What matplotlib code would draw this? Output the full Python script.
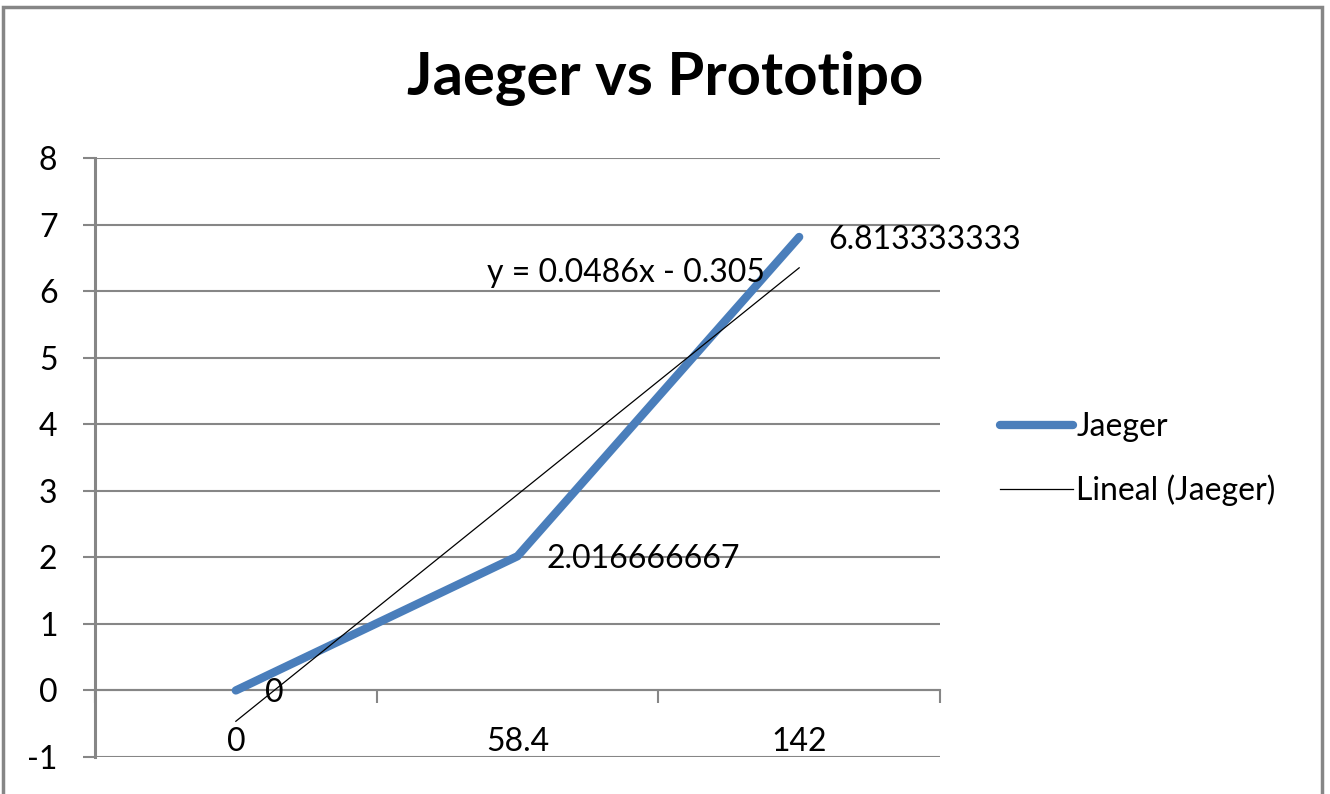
import numpy as np
import matplotlib
matplotlib.use("Agg")
import matplotlib.pyplot as plt
from matplotlib.patches import Rectangle

categories = ["0", "58.4", "142"]
jaeger = [0, 2.016666667, 6.813333333]
point_labels = ["0", "2.016666667", "6.813333333"]
equation = "y = 0.0486x - 0.305"
y_ticks = [-1, 0, 1, 2, 3, 4, 5, 6, 7, 8]

blue = "#4a7ebb"
grey = "#868686"
fs = 23
plt.rcParams["font.family"] = ["Lato", "DejaVu Sans"]
plt.rcParams["axes.unicode_minus"] = False

fig = plt.figure(figsize=(13.3, 7.94), dpi=100)
ax = fig.add_axes([95 / 1330, 1 - 757 / 794, 845 / 1330, 599 / 794])

# outer chart frame
fig.patches.append(Rectangle((3 / 1330, -0.02), 1319 / 1330, 1 - 7 / 794 + 0.02,
                             transform=fig.transFigure, fill=False,
                             edgecolor=grey, linewidth=2.5))

x = np.arange(len(categories))
ax.plot(x, jaeger, color=blue, linewidth=6, solid_capstyle="round",
        solid_joinstyle="round", label="Jaeger", zorder=3)

# linear trend on category index, like the spreadsheet does
slope, intercept = np.polyfit(x, jaeger, 1)
ax.plot(x, slope * x + intercept, color="black", linewidth=0.9,
        label="Lineal (Jaeger)", zorder=4)

for xi, yi, lab in zip(x, jaeger, point_labels):
    ax.annotate(lab, (xi, yi), xytext=(21, -2), textcoords="offset points",
                ha="left", va="center", fontsize=fs)

ax.text(0.89, 6.27, equation, ha="left", va="center", fontsize=fs)

ax.set_xlim(-0.5, len(categories) - 0.5)
ax.set_ylim(-1, 8)
ax.set_yticks(y_ticks)
ax.grid(axis="y", color=grey, linewidth=1.5)
ax.set_axisbelow(True)

ax.set_xticks(np.arange(len(categories) + 1) - 0.5, minor=True)
ax.set_xticks(x, labels=categories)
ax.tick_params(labelsize=fs)
ax.tick_params(axis="x", which="major", length=0, pad=26)
ax.tick_params(axis="x", which="minor", length=9, width=1.5, color=grey, direction="out")
ax.tick_params(axis="y", length=9, width=1.5, color=grey, pad=18)

for side in ["top", "right"]:
    ax.spines[side].set_visible(False)
ax.spines["bottom"].set_position(("data", 0))
ax.spines["bottom"].set_color(grey)
ax.spines["bottom"].set_linewidth(1.5)
ax.spines["left"].set_color(grey)
ax.spines["left"].set_linewidth(2.2)

fig.text(0.5, 1 - 78 / 794, "Jaeger vs Prototipo", ha="center", va="center",
         fontsize=43, fontweight="bold")

ax.legend(loc="center left", bbox_to_anchor=(987 / 1330, 1 - 459 / 794),
          bbox_transform=fig.transFigure, frameon=False,
          prop={"size": fs}, handlelength=2.3,
          handletextpad=0.1, labelspacing=1.0, borderaxespad=0)

fig.savefig("out.png", dpi=100)
